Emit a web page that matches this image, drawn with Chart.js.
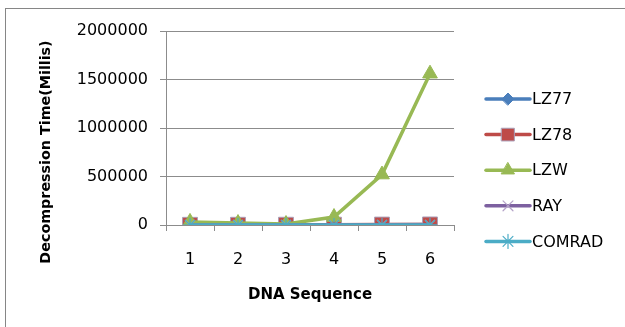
<!DOCTYPE html>
<html>
<head>
<meta charset="utf-8">
<script src="https://cdn.jsdelivr.net/npm/chart.js@4/dist/chart.umd.min.js"></script>
<style>
  html, body { margin: 0; padding: 0; background: #fff; }
  #wrap { position: relative; width: 625px; height: 327px; overflow: hidden; }
  #frame { position: absolute; left: 5px; top: 8px; width: 700px; height: 400px;
           border-top: 1.5px solid #868686; border-left: 1.5px solid #868686; }
  canvas { position: absolute; left: 0; top: 0; }
</style>
</head>
<body>
<div id="wrap">
  <div id="frame"></div>
  <canvas id="c" width="625" height="327"></canvas>
</div>
<script>
// DNA sequence index on the x axis
const categories = ['1', '2', '3', '4', '5', '6'];

// Decompression time (milliseconds) per algorithm
const lz77   = [1200, 1500, 1800, 2300, 3100, 4200];
const lz78   = [2100, 2600, 3000, 3500, 4800, 6000];
const lzw    = [32000, 20000, 10000, 82000, 520000, 1560000];
const ray    = [300, 350, 420, 500, 650, 800];
const comrad = [150, 200, 240, 300, 380, 450];

// Value axis ticks
const yTicks = [0, 500000, 1000000, 1500000, 2000000];

const yTitle = 'Decompression Time(Millis)';
const xTitle = 'DNA Sequence';

const FONT = 'DejaVu Sans';
const GRID = '#8c8c8c';

const series = [
  { label: 'LZ77',   data: lz77,   color: '#4A7EBB', fill: '#4A7EBB', border: '#4A7EBB', style: 'rectRot',  r: 6,    lr: 6,   bw: 1,   order: 5 },
  { label: 'LZ78',   data: lz78,   color: '#BE4B48', fill: '#BE4B48', border: '#A99FB8', style: 'rect',     r: 10.5, lr: 9,   bw: 1,   order: 4 },
  { label: 'LZW',    data: lzw,    color: '#98B954', fill: '#98B954', border: '#98B954', style: 'triangle', r: 8.5,  lr: 7.5, bw: 1,   order: 3 },
  { label: 'RAY',    data: ray,    color: '#7D60A0', fill: '#7D60A0', border: '#B3A2C7', style: 'crossRot', r: 7,    lr: 7,   bw: 1.2, order: 2 },
  { label: 'COMRAD', data: comrad, color: '#4BACC6', fill: '#4BACC6', border: '#4BACC6', style: 'star',     r: 7,    lr: 7,   bw: 1.2, order: 1 }
];

// Axis titles and the side legend (line with marker, then label)
const extras = {
  id: 'extras',
  afterDraw(chart) {
    const ctx = chart.ctx;
    const a = chart.chartArea;
    ctx.save();
    ctx.fillStyle = '#000';
    ctx.textBaseline = 'middle';
    ctx.textAlign = 'center';
    ctx.font = 'bold 15px "' + FONT + '"';
    ctx.fillText(xTitle, (a.left + a.right) / 2, a.bottom + 70);
    ctx.font = 'bold 14.3px "' + FONT + '"';
    ctx.save();
    ctx.translate(46, a.bottom - 73);
    ctx.rotate(-Math.PI / 2);
    ctx.fillText(yTitle, 0, 0);
    ctx.restore();

    ctx.font = '16px "' + FONT + '"';
    ctx.textAlign = 'left';
    const x0 = 486, x1 = 530, y0 = 99, step = 35.6;
    series.forEach((s, i) => {
      const y = y0 + i * step;
      ctx.strokeStyle = s.color;
      ctx.lineWidth = 3.5;
      ctx.lineCap = 'round';
      ctx.beginPath();
      ctx.moveTo(x0, y);
      ctx.lineTo(x1, y);
      ctx.stroke();
      ctx.fillStyle = s.fill;
      ctx.strokeStyle = s.border;
      ctx.lineWidth = s.bw;
      Chart.helpers.drawPoint(ctx, { pointStyle: s.style, radius: s.lr, rotation: 0, borderWidth: s.bw }, (x0 + x1) / 2, y);
      ctx.fillStyle = '#000';
      ctx.fillText(s.label, 532, y + 1);
    });
    ctx.restore();
  }
};

new Chart(document.getElementById('c'), {
  type: 'line',
  data: {
    labels: categories,
    datasets: series.map(s => ({
      label: s.label,
      data: s.data,
      order: s.order,
      borderColor: s.color,
      borderWidth: 3.5,
      tension: 0,
      pointStyle: s.style,
      pointRadius: s.r,
      pointBackgroundColor: s.fill,
      pointBorderColor: s.border,
      pointBorderWidth: s.bw
    }))
  },
  options: {
    responsive: false,
    animation: false,
    events: [],
    layout: { padding: { left: 0, top: 31, right: 171, bottom: 0 } },
    plugins: { legend: { display: false }, tooltip: { enabled: false } },
    scales: {
      x: {
        offset: true,
        afterFit(scale) { scale.height = 102; },
        grid: { offset: true, drawOnChartArea: false, drawTicks: true, tickLength: 6, color: GRID, lineWidth: 1 },
        border: { display: true, color: GRID, width: 1 },
        ticks: { color: '#000', padding: 19, font: { family: FONT, size: 16 } }
      },
      y: {
        min: yTicks[0],
        max: yTicks[yTicks.length - 1],
        afterFit(scale) { scale.width = 166; },
        afterBuildTicks(scale) { scale.ticks = yTicks.map(v => ({ value: v })); },
        grid: { color: GRID, lineWidth: 1, drawTicks: true, tickLength: 6 },
        border: { display: true, color: GRID, width: 1 },
        ticks: { color: '#000', padding: 12, font: { family: FONT, size: 16 }, callback: v => String(v) }
      }
    }
  },
  plugins: [extras]
});
</script>
</body>
</html>
